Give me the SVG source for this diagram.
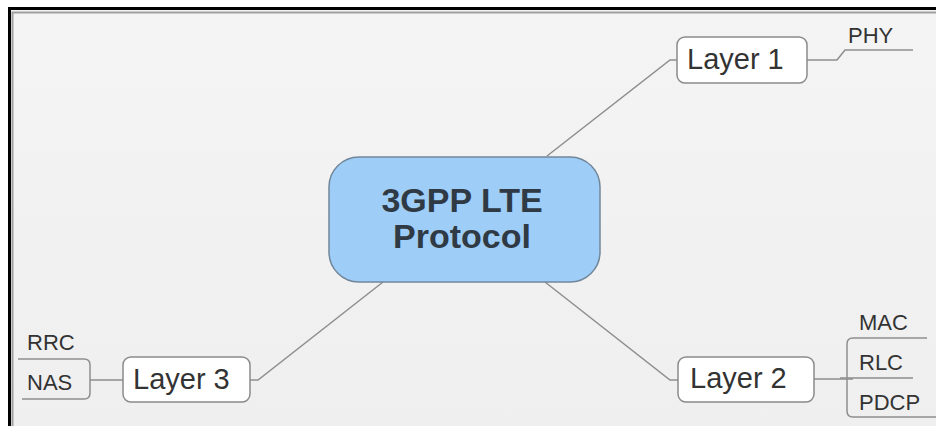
<svg xmlns="http://www.w3.org/2000/svg" width="936" height="426" viewBox="0 0 936 426">
<defs>
<linearGradient id="bg" x1="0" y1="0" x2="0" y2="1">
<stop offset="0" stop-color="#f4f4f4"/>
<stop offset="1" stop-color="#efefef"/>
</linearGradient>
<style>
.conn{fill:none;stroke:#8e8e8e;stroke-width:1.5}
.box{fill:#ffffff;stroke:#8a8a8a;stroke-width:1.5}
.lbl{font-family:"Liberation Sans",Arial,sans-serif;font-size:29px;fill:#333333}
.sub{font-family:"Liberation Sans",Arial,sans-serif;font-size:22px;fill:#333333}
.main{font-family:"Liberation Sans",Arial,sans-serif;font-size:34px;font-weight:bold;fill:#2f3a44;text-anchor:middle}
</style>
</defs>
<rect x="0" y="0" width="936" height="426" fill="#ffffff"/>
<rect x="9.5" y="8.5" width="940" height="430" fill="url(#bg)" stroke="#000000" stroke-width="3"/>
<path d="M12.5 440 V12.5 H940" fill="none" stroke="#a0a0a0" stroke-width="2"/>
<g id="connectors">
<path class="conn" d="M547 156 L670 60 H677"/>
<path class="conn" d="M545 282 L670 380 H678"/>
<path class="conn" d="M383 282 L258 380 H250"/>
<path class="conn" d="M807 60 H837 L845 50 H913"/>
<path class="conn" d="M814 379 H853"/>
<path class="conn" d="M927 338 H853 Q847 338 847 344 V411 Q847 417 853 417 H936"/>
<path class="conn" d="M840 378 H913"/>
<path class="conn" d="M123 380 H90"/>
<path class="conn" d="M18 359 H84 Q90 359 90 365 V393 Q90 399 84 399 H22"/>
</g>
<g id="central">
<rect x="329" y="157" width="271" height="125" rx="30" fill="#9ecdf8" stroke="#71879a" stroke-width="1.5"/>
<text class="main" x="462" y="212">3GPP LTE</text>
<text class="main" x="462" y="248">Protocol</text>
</g>
<g id="layer1">
<rect class="box" x="677" y="37" width="130" height="46" rx="8"/>
<text class="lbl" x="687" y="69">Layer 1</text>
</g>
<g id="layer2">
<rect class="box" x="678" y="357" width="136" height="45" rx="8"/>
<text class="lbl" x="690" y="388">Layer 2</text>
</g>
<g id="layer3">
<rect class="box" x="123" y="357" width="127" height="45" rx="8"/>
<text class="lbl" x="133" y="389">Layer 3</text>
</g>
<g id="phy"><text class="sub" x="848" y="43">PHY</text></g>
<g id="mac"><text class="sub" x="859" y="330">MAC</text></g>
<g id="rlc"><text class="sub" x="859" y="370">RLC</text></g>
<g id="pdcp"><text class="sub" x="859" y="410">PDCP</text></g>
<g id="rrc"><text class="sub" x="27" y="350">RRC</text></g>
<g id="nas"><text class="sub" x="27" y="390">NAS</text></g>
</svg>
